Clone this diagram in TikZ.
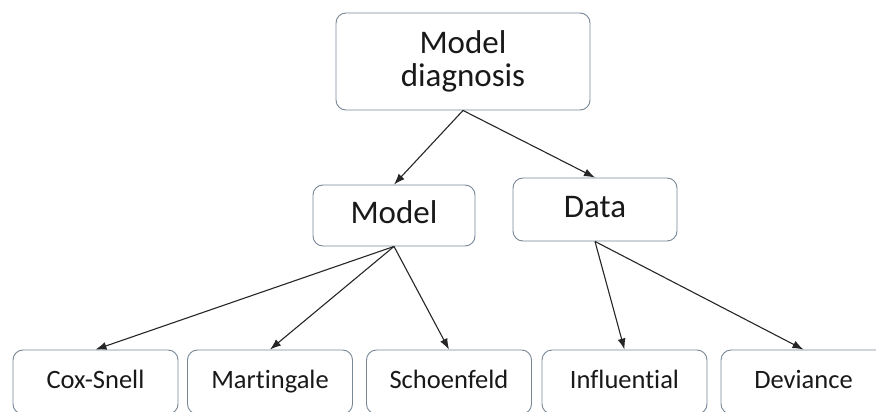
\documentclass[tikz,border=0pt]{standalone}
\usepackage{fontspec}
\setmainfont{Carlito}[Ligatures={NoCommon}]
\usetikzlibrary{arrows.meta}
\definecolor{boxline}{RGB}{120,135,150}
\definecolor{textcol}{RGB}{25,25,25}
\tikzset{
  box/.style={draw=boxline, line width=0.9pt, rounded corners=10pt, fill=white,
    text=textcol, align=center, inner sep=0pt},
  bigbox/.style={box, font=\fontsize{33}{34}\selectfont},
  leafbox/.style={box, font=\fontsize{26.5}{28}\selectfont,
    text height=18pt, text depth=6pt,
    minimum width=165pt, minimum height=64pt},
  link/.style={draw=black!85, line width=1.1pt, -{Latex[length=11pt,width=8pt]}}
}
\begin{document}
\begin{tikzpicture}[x=1pt,y=-1pt]
  \useasboundingbox (0,0) rectangle (876,412);
  \clip (0,0) rectangle (876,412);

  % root and second level
  \node[bigbox, minimum width=254pt, minimum height=97pt] (root) at (463,61.5)
    {Model\\[-1pt]diagnosis};
  \node[bigbox, minimum width=162pt, minimum height=61pt,
        text height=22pt, text depth=7pt] (model) at (394,215.5) {Model};
  \node[bigbox, minimum width=164pt, minimum height=63pt,
        text height=22pt, text depth=7pt] (data) at (595,209.5) {Data};

  % residual types
  \node[leafbox] (cox)  at (95.5,382)  {Cox-Snell};
  \node[leafbox] (mart) at (270,382)   {Martingale};
  \node[leafbox] (sch)  at (449,382)   {Schoenfeld};
  \node[leafbox] (infl) at (624.5,382) {Influential};
  \node[leafbox] (dev)  at (803.5,382) {Deviance};

  % connectors
  \draw[link] (root.south) -- (model.north);
  \draw[link] (root.south) -- (data.north);
  \draw[link] (model.south) -- (cox.north);
  \draw[link] (model.south) -- (mart.north);
  \draw[link] (model.south) -- (sch.north);
  \draw[link] (data.south) -- (infl.north);
  \draw[link] (data.south) -- (dev.north);
\end{tikzpicture}
\end{document}
